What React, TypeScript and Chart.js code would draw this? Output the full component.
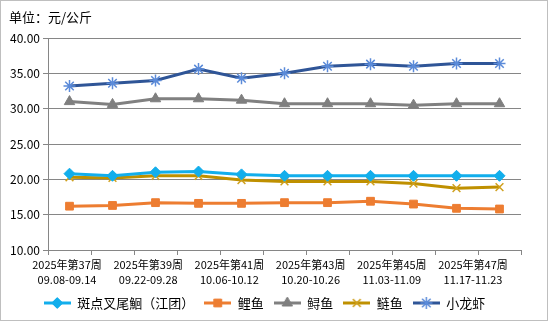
import React, { useEffect, useRef } from 'react';
import { Chart, registerables } from 'chart.js';
import { drawPoint } from 'chart.js/helpers';

Chart.register(...registerables);

const FONT = '"Noto Sans CJK SC", "Noto Sans", sans-serif';

const weekLabels = [
  '2025年第37周', '2025年第38周', '2025年第39周', '2025年第40周', '2025年第41周', '2025年第42周',
  '2025年第43周', '2025年第44周', '2025年第45周', '2025年第46周', '2025年第47周',
];
const dateLabels = [
  '09.08-09.14', '09.15-09.21', '09.22-09.28', '09.29-10.05', '10.06-10.12', '10.13-10.19',
  '10.20-10.26', '10.27-11.02', '11.03-11.09', '11.10-11.16', '11.17-11.23',
];
// every other week is labelled on the axis
const shownLabelIndexes = [0, 2, 4, 6, 8, 10];

const spottedCatfish = [20.8, 20.5, 21.0, 21.1, 20.7, 20.5, 20.5, 20.5, 20.5, 20.5, 20.5];
const commonCarp = [16.2, 16.3, 16.7, 16.6, 16.6, 16.7, 16.7, 16.9, 16.5, 15.9, 15.8];
const sturgeon = [31.0, 30.6, 31.4, 31.4, 31.2, 30.7, 30.7, 30.7, 30.5, 30.7, 30.7];
const silverCarp = [20.3, 20.2, 20.5, 20.5, 19.9, 19.7, 19.7, 19.7, 19.4, 18.75, 18.9];
const crayfish = [33.2, 33.6, 34.0, 35.6, 34.3, 35.0, 36.0, 36.3, 36.0, 36.4, 36.4];

const seriesNames = ['斑点叉尾鮰（江团）', '鲤鱼', '鲟鱼', '鲢鱼', '小龙虾'];
const titleText = '单位：元/公斤';

type Style = { line: string; marker: string; pointStyle: string; radius: number; bw: number };
const styles: Style[] = [
  { line: '#12AEEC', marker: '#12AEEC', pointStyle: 'rectRot', radius: 5.5, bw: 1 },
  { line: '#ED7D31', marker: '#ED7D31', pointStyle: 'rect', radius: 5.5, bw: 1 },
  { line: '#808080', marker: '#7F7F7F', pointStyle: 'triangle', radius: 6, bw: 1 },
  { line: '#BF9000', marker: '#CFA01E', pointStyle: 'crossRot', radius: 5.5, bw: 1.5 },
  { line: '#2F5597', marker: '#5B8BD9', pointStyle: 'star', radius: 6, bw: 1.5 },
];

function makeIcon(s: Style): HTMLCanvasElement {
  const c = document.createElement('canvas');
  c.width = 27;
  c.height = 14;
  const ctx = c.getContext('2d')!;
  ctx.strokeStyle = s.line;
  ctx.lineWidth = 3;
  ctx.beginPath();
  ctx.moveTo(0, 7);
  ctx.lineTo(27, 7);
  ctx.stroke();
  ctx.fillStyle = s.marker;
  ctx.strokeStyle = s.marker;
  ctx.lineWidth = s.bw;
  drawPoint(ctx, { pointStyle: s.pointStyle as any, radius: s.radius, rotation: 0, borderWidth: s.bw }, 13.5, 7);
  return c;
}

export default function App() {
  const ref = useRef<HTMLCanvasElement>(null);

  useEffect(() => {
    const values = [spottedCatfish, commonCarp, sturgeon, silverCarp, crayfish];
    const icons = styles.map(makeIcon);

    const decor = {
      id: 'decor',
      beforeDraw(chart: any) {
        const ctx = chart.ctx;
        ctx.save();
        ctx.fillStyle = '#ffffff';
        ctx.fillRect(0, 0, chart.width, chart.height);
        ctx.restore();
      },
      afterDraw(chart: any) {
        const ctx = chart.ctx;
        ctx.save();
        ctx.strokeStyle = '#BFBFBF';
        ctx.lineWidth = 1;
        ctx.strokeRect(0.5, 0.5, 547, 320);
        ctx.fillStyle = '#000';
        ctx.font = `13px ${FONT}`;
        ctx.textBaseline = 'middle';
        ctx.textAlign = 'left';
        ctx.fillText(titleText, 9, 17);
        ctx.restore();
      },
    };

    const chart = new Chart(ref.current!, {
      type: 'line',
      data: {
        labels: weekLabels,
        datasets: seriesNames.map((name, i) => ({
          label: name,
          data: values[i],
          xAxisID: 'x',
          yAxisID: 'y',
          borderColor: styles[i].line,
          backgroundColor: styles[i].marker,
          borderWidth: 3,
          pointStyle: styles[i].pointStyle as any,
          pointRadius: styles[i].radius,
          pointBorderWidth: styles[i].bw,
          pointBorderColor: styles[i].marker,
          pointBackgroundColor: styles[i].marker,
          tension: 0,
          fill: false,
        })),
      },
      options: {
        animation: false,
        responsive: false,
        layout: { padding: { left: 8, top: 38, right: 29, bottom: 2.5 } },
        scales: {
          x: {
            type: 'category',
            position: 'bottom',
            weight: 0,
            offset: true,
            grid: { offset: true, drawOnChartArea: false, drawTicks: true, tickLength: 5, color: '#868686' },
            border: { display: true, color: '#868686' },
            ticks: { display: false, autoSkip: false },
            afterFit(scale: any) {
              scale.height = 5;
            },
          },
          xLabels: {
            type: 'linear',
            position: 'bottom',
            weight: 1,
            min: -0.234,
            max: 5.591,
            grid: { display: false, drawTicks: false },
            border: { display: false },
            ticks: {
              autoSkip: false,
              maxRotation: 0,
              minRotation: 0,
              padding: 2.5,
              color: '#000',
              font: { family: FONT, size: 11, lineHeight: '15px' } as any,
              callback: (v: any) => {
                const idx = shownLabelIndexes[Math.round(Number(v))];
                return idx === undefined ? '' : [weekLabels[idx], dateLabels[idx]];
              },
            },
            afterBuildTicks(scale: any) {
              scale.ticks = shownLabelIndexes.map((_, k) => ({ value: k }));
            },
            afterFit(scale: any) {
              scale.height = 31.5;
            },
          },
          y: {
            min: 10,
            max: 40,
            grid: { color: '#868686', tickLength: 5, drawTicks: true },
            border: { display: true, color: '#868686' },
            ticks: {
              stepSize: 5,
              padding: 3,
              color: '#000',
              font: { family: FONT, size: 12 },
              callback: (v: any) => Number(v).toFixed(2),
            },
            afterFit(scale: any) {
              scale.width = 40;
            },
          },
        },
        plugins: {
          title: { display: false },
          tooltip: { enabled: false },
          legend: {
            position: 'bottom',
            labels: {
              usePointStyle: true,
              pointStyleWidth: 27,
              boxHeight: 13,
              padding: 10,
              color: '#000',
              font: { family: FONT, size: 13 },
              generateLabels: (ch: any) =>
                ch.data.datasets.map((ds: any, i: number) => ({
                  text: ds.label,
                  pointStyle: icons[i],
                  fillStyle: 'transparent',
                  strokeStyle: 'transparent',
                  lineWidth: 0,
                  hidden: false,
                  datasetIndex: i,
                  fontColor: '#000',
                })),
            },
          },
        },
      },
      plugins: [decor],
    } as any);

    return () => chart.destroy();
  }, []);

  return (
    <div style={{ position: 'absolute', left: 0, top: 0, width: 550, height: 322 }}>
      <canvas ref={ref} width={550} height={322} style={{ width: 550, height: 322, display: 'block' }} />
    </div>
  );
}
